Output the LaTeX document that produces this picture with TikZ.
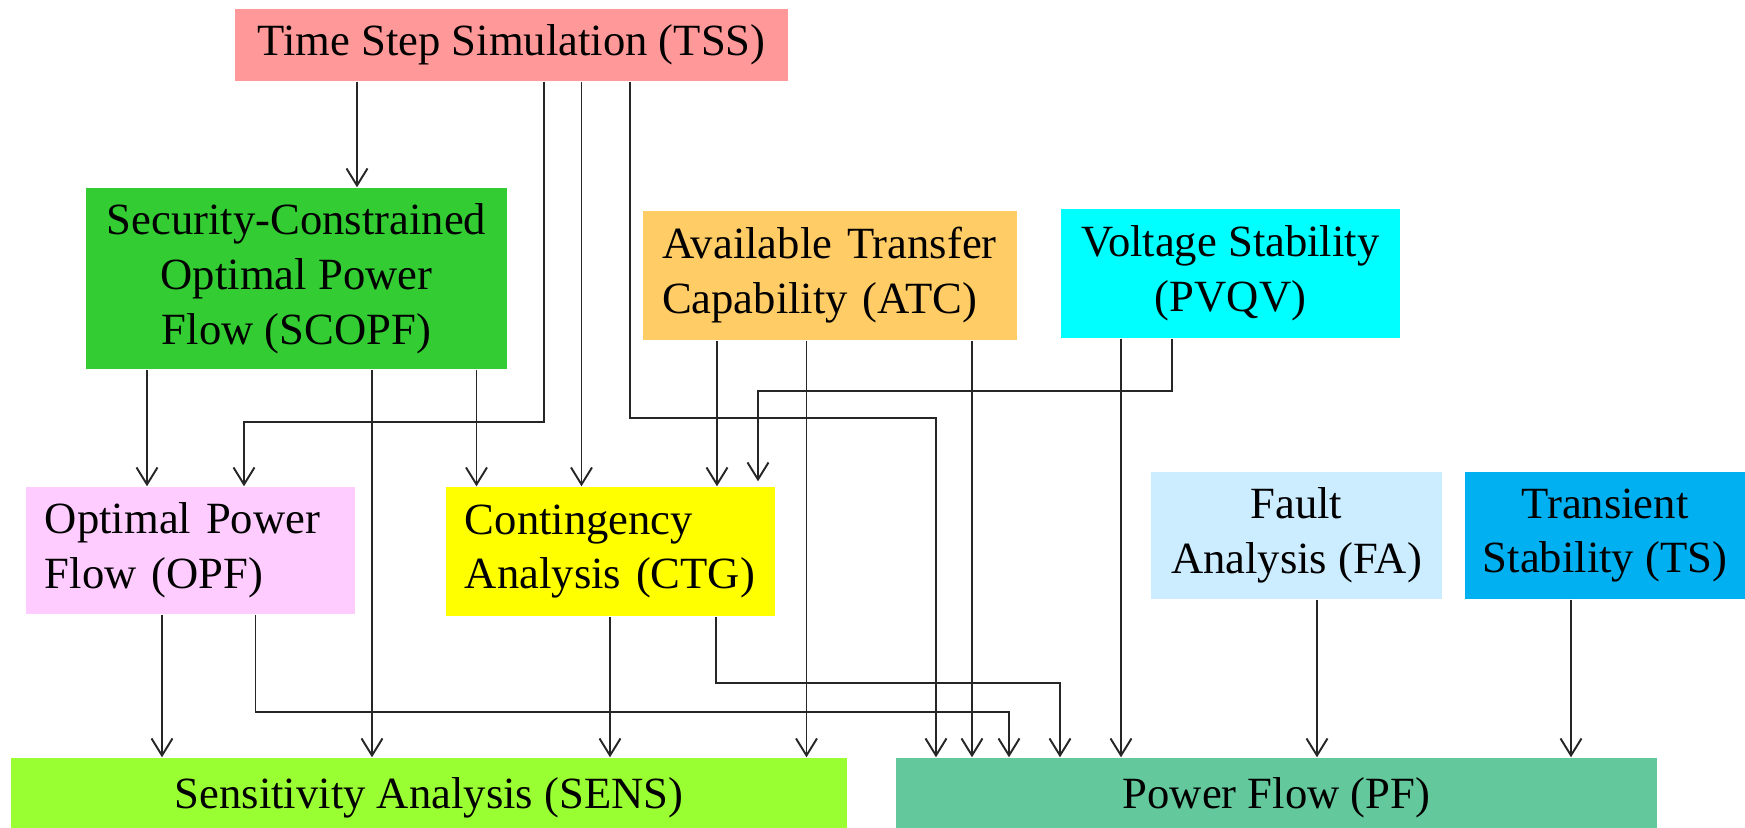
\documentclass[tikz,border=0pt]{standalone}
\usepackage{fontspec}
\setmainfont{Liberation Serif}
\usepackage{xcolor}
\usepackage{tikz}
\usetikzlibrary{arrows.meta,positioning,calc}
\definecolor{tsspink}{HTML}{FF9999}
\definecolor{scopfgreen}{HTML}{33CC33}
\definecolor{atcorange}{HTML}{FFCC66}
\definecolor{pvqvcyan}{HTML}{00FFFF}
\definecolor{opfpink}{HTML}{FFCCFF}
\definecolor{ctgyellow}{HTML}{FFFF00}
\definecolor{fablue}{HTML}{CCECFF}
\definecolor{tsblue}{HTML}{00B0F0}
\definecolor{senslime}{HTML}{99FF33}
\definecolor{pfgreen}{HTML}{63C89C}
\tikzset{
  procbox/.style={
    rectangle, fill=#1, inner sep=0pt,
    font=\fontsize{12.7}{15.6}\selectfont, align=center
  },
  procbox/.default=white,
  leftbox/.style={
    rectangle, fill=#1, inner ysep=0pt, inner xsep=0.19cm,
    font=\fontsize{12.7}{15.6}\selectfont, align=left
  },
  flow/.style={
    -{Straight Barb[length=1.7mm,width=2.1mm]}, line width=0.55pt, black!85
  },
}
\begin{document}
\begin{tikzpicture}
  \useasboundingbox (0,0) rectangle (17.45,-8.28);
  % boxes
  \node[procbox=tsspink, minimum width=5.53cm, minimum height=0.72cm] (tss) at (5.115,-0.45) {Time Step Simulation (TSS)};
  \node[procbox=scopfgreen, minimum width=4.21cm, minimum height=1.81cm] (scopf) at (2.965,-2.785) {Security-Constrained\\Optimal Power\\Flow (SCOPF)};
  \node[leftbox=atcorange, text width=3.36cm, minimum height=1.29cm] (atc) at (8.30,-2.755) {Available Transfer\\Capability (ATC)};
  \node[procbox=pvqvcyan, minimum width=3.39cm, minimum height=1.29cm] (pvqv) at (12.305,-2.735) {Voltage Stability\\(PVQV)};
  \node[leftbox=opfpink, text width=2.91cm, minimum height=1.27cm] (opf) at (1.905,-5.505) {Optimal Power\\Flow (OPF)};
  \node[leftbox=ctgyellow, text width=2.91cm, minimum height=1.29cm] (ctg) at (6.105,-5.515) {Contingency\\Analysis (CTG)};
  \node[procbox=fablue, minimum width=2.91cm, minimum height=1.27cm] (fa) at (12.965,-5.355) {Fault\\Analysis (FA)};
  \node[procbox=tsblue, minimum width=2.80cm, minimum height=1.27cm] (ts) at (16.05,-5.355) {Transient\\Stability (TS)};
  \node[procbox=senslime, minimum width=8.36cm, minimum height=0.80cm] (sens) at (4.29,-7.98) {Sensitivity Analysis (SENS)};
  \node[procbox=pfgreen, minimum width=7.61cm, minimum height=0.80cm] (pf) at (12.765,-7.98) {Power Flow (PF)};
  % from TSS
  \draw[flow] (tss.south -| 3.57,0) -- (scopf.north -| 3.57,0);
  \draw[flow] (tss.south -| 5.44,0) |- (2.44,-4.22) -- (opf.north -| 2.44,0);
  \draw[flow] (tss.south -| 5.815,0) -- (ctg.north -| 5.815,0);
  \draw[flow] (tss.south -| 6.30,0) |- (9.36,-4.18) -- (pf.north -| 9.36,0);
  % from SCOPF
  \draw[flow] (scopf.south -| 1.47,0) -- (opf.north -| 1.47,0);
  \draw[flow] (scopf.south -| 3.72,0) -- (sens.north -| 3.72,0);
  \draw[flow] (scopf.south -| 4.765,0) -- (ctg.north -| 4.765,0);
  % from ATC and PVQV
  \draw[flow] (atc.south -| 7.17,0) -- (ctg.north -| 7.17,0);
  \draw[flow] (atc.south -| 8.065,0) -- (sens.north -| 8.065,0);
  \draw[flow] (atc.south -| 9.72,0) -- (pf.north -| 9.72,0);
  \draw[flow] (pvqv.south -| 11.21,0) -- (pf.north -| 11.21,0);
  \draw[flow] (pvqv.south -| 11.72,0) |- (7.58,-3.91) -- ([yshift=0.05cm]ctg.north -| 7.58,0);
  % from OPF and CTG
  \draw[flow] (opf.south -| 1.62,0) -- (sens.north -| 1.62,0);
  \draw[flow] (opf.south -| 2.555,0) |- (10.09,-7.12) -- (pf.north -| 10.09,0);
  \draw[flow] (ctg.south -| 6.10,0) -- (sens.north -| 6.10,0);
  \draw[flow] (ctg.south -| 7.16,0) |- (10.60,-6.83) -- (pf.north -| 10.60,0);
  % from FA and TS
  \draw[flow] (fa.south -| 13.17,0) -- (pf.north -| 13.17,0);
  \draw[flow] (ts.south -| 15.71,0) -- (pf.north -| 15.71,0);
\end{tikzpicture}
\end{document}
